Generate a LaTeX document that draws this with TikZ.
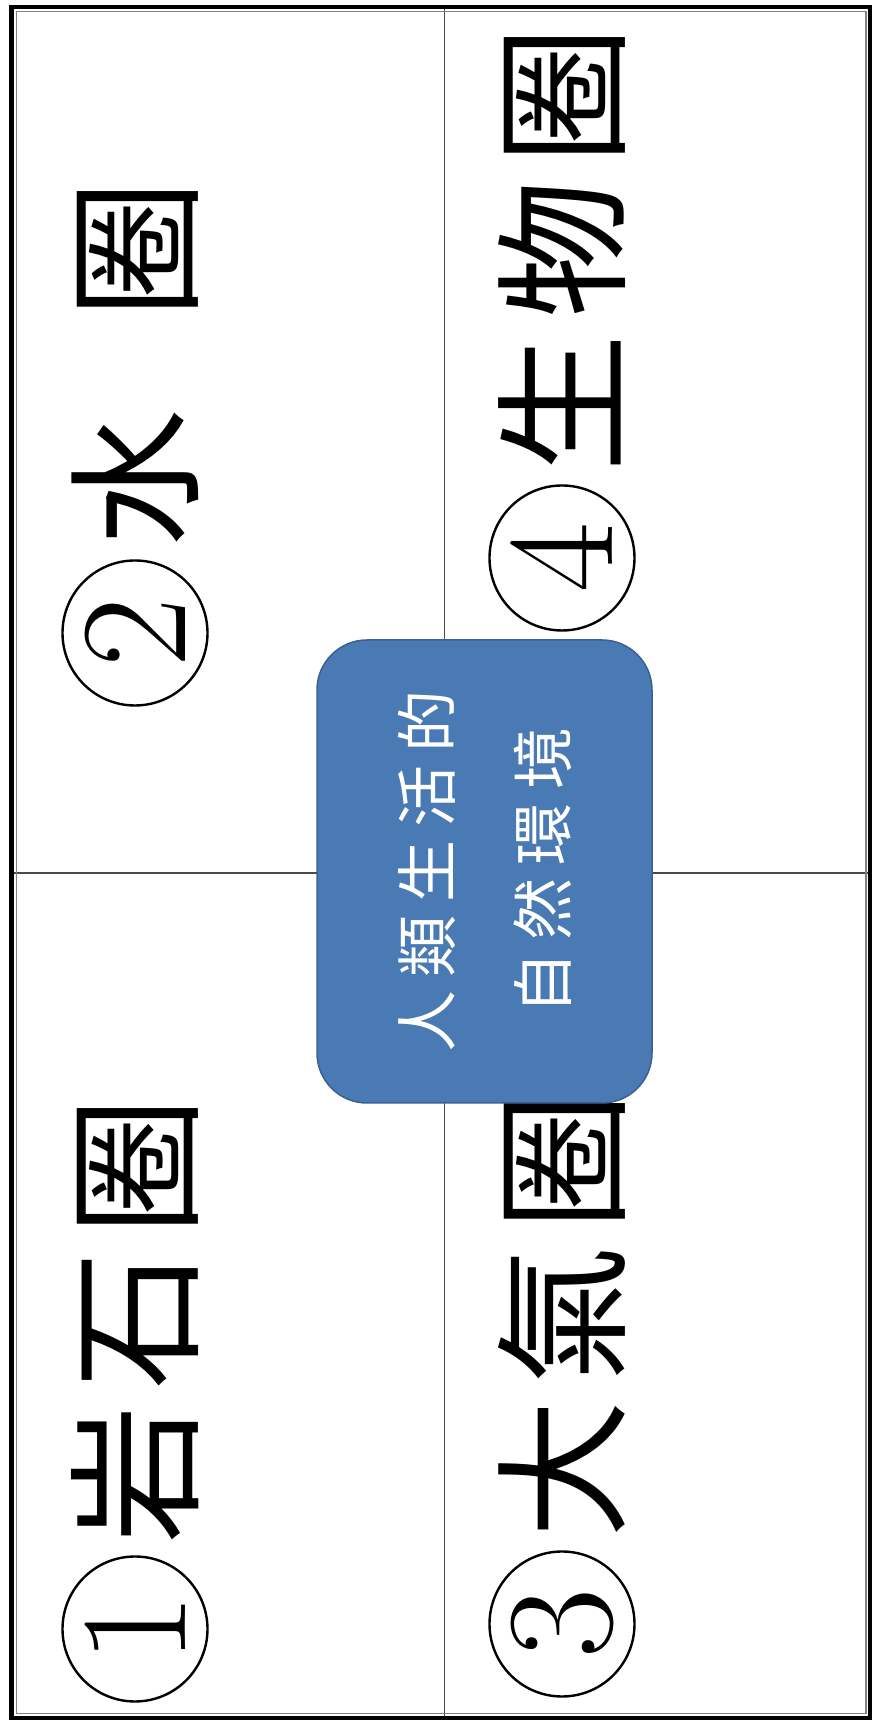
\documentclass[tikz,border=0pt]{standalone}
\usepackage{fontspec}
\newfontfamily\cjk{Noto Sans CJK TC}
\usetikzlibrary{positioning,shapes.geometric}
\definecolor{corefill}{HTML}{4A7AB3}
\definecolor{coreline}{HTML}{3A6190}
\definecolor{rulegray}{HTML}{4E4944}
\newcommand{\widesep}{\hspace{16pt}}
\newcommand{\tightsep}{\hspace{13pt}}

\begin{document}
\begin{tikzpicture}[x=1pt, y=1pt,
    numdisc/.style={circle, draw=black, line width=2.4pt, minimum size=145pt,
                    inner sep=0pt, rotate=90, font=\rmfamily\fontsize{152}{152}\selectfont},
    sphere/.style={inner sep=0pt, rotate=90, anchor=west,
                   font=\cjk\fontsize{138}{138}\selectfont},
    core/.style={rectangle, draw=coreline, fill=corefill, line width=1.5pt,
                 rounded corners=50pt, minimum width=463pt, minimum height=335pt,
                 rotate=90, align=center, text=white,
                 font=\cjk\fontsize{62}{116}\selectfont},
    cellrule/.style={draw=rulegray, line width=1.5pt},
]
\useasboundingbox[fill=white] (0,0) rectangle (872,1722);

\coordinate (nw) at (11.5,1715);
\coordinate (se) at (870,4);
\coordinate (vtop) at (444.5,1715);
\coordinate (hleft) at (11.5,849);

\draw[cellrule] (vtop) -- (vtop |- se);
\draw[cellrule] (hleft) -- (hleft -| se);
\draw[line width=4.5pt] (nw) rectangle (se);
\draw[gray, line width=1.2pt] ([shift={(5pt,-4.5pt)}]nw) rectangle ([shift={(-4pt,4.5pt)}]se);

\node[numdisc] (n1) at (135,93) {1};
\node[numdisc] (n2) at (135,1089) {2};
\node[numdisc] (n3) at (562,98) {3};
\node[numdisc] (n4) at (562,1164) {4};

\node[sphere] (t1) at ([yshift=12pt]n1.east) {岩\widesep 石\widesep 圈};
\node[sphere] (t2) at ([yshift=12pt]n2.east) {水\hspace{91pt}圈};
\node[sphere] (t3) at ([yshift=12pt]n3.east) {大\widesep 氣\widesep 圈};
\node[sphere] (t4) at ([yshift=12pt]n4.east) {生\widesep 物\widesep 圈};

\node[core] (env) at (484.5,850.5) {人\tightsep 類\tightsep 生\tightsep 活\tightsep 的\\自\tightsep 然\tightsep 環\tightsep 境};

\end{tikzpicture}
\end{document}
